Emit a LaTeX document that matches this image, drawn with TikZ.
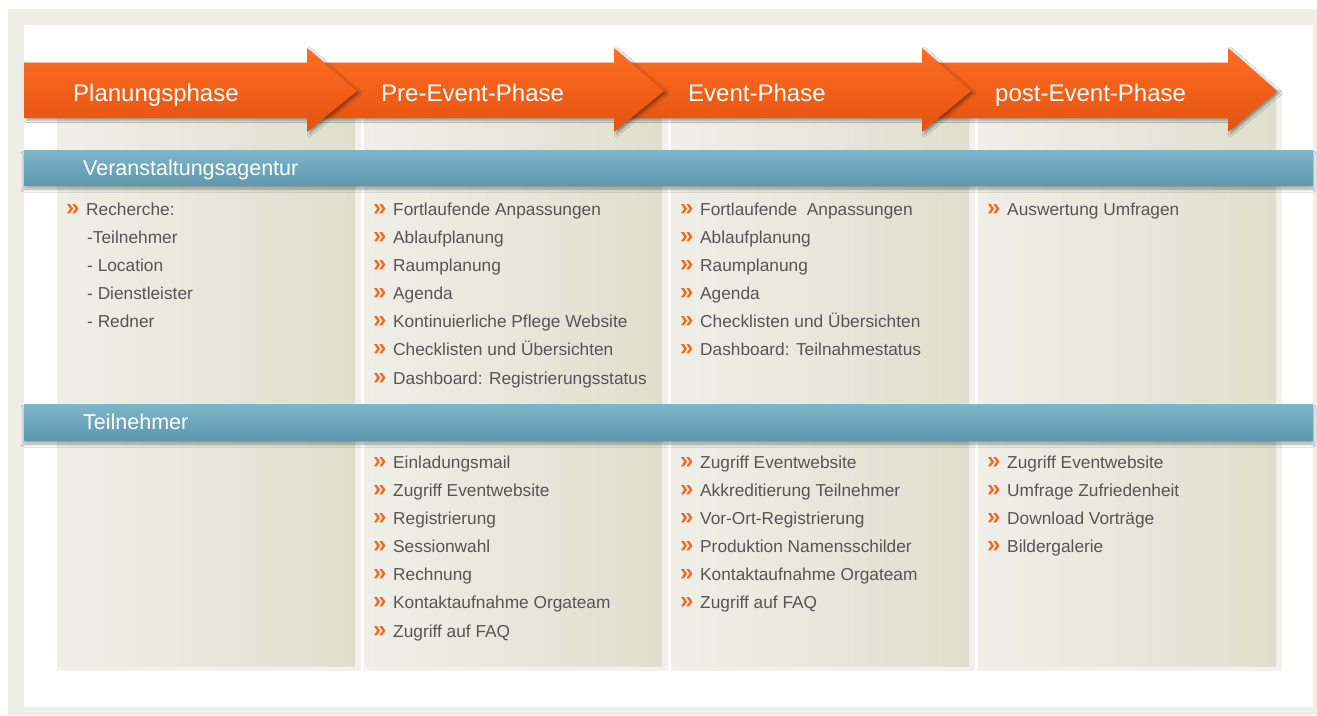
\documentclass[tikz,border=0pt]{standalone}
\usepackage{fontspec}
\setmainfont{Liberation Sans}
\usetikzlibrary{shadows.blur}
\definecolor{framebg}{HTML}{EEEEE6}
\definecolor{colborder}{HTML}{F2F2EC}
\definecolor{colleft}{HTML}{EFEFE8}
\definecolor{colright}{HTML}{DFDFCD}
\definecolor{arrowtop}{HTML}{FF6C24}
\definecolor{arrowbot}{HTML}{E4530F}
\definecolor{bartop}{HTML}{7EB5C9}
\definecolor{barbot}{HTML}{5E98AE}
\definecolor{itemgray}{HTML}{555557}
\definecolor{bulorange}{HTML}{F26A21}
\tikzset{
  item/.style={anchor=base west, inner sep=0pt, text=itemgray, font=\fontsize{17.3}{20}\selectfont},
  bul/.style={anchor=base west, inner sep=0pt, text=bulorange, font=\bfseries\fontsize{24}{26}\selectfont},
  phase/.style={anchor=base west, inner sep=0pt, text=white, font=\fontsize{24}{28}\selectfont},
  role/.style={anchor=base west, inner sep=0pt, text=white, font=\fontsize{21.5}{24}\selectfont},
  arrowshape/.style={top color=arrowtop, bottom color=arrowbot,
    blur shadow={shadow xshift=2.5pt, shadow yshift=-2pt, shadow blur radius=2.5pt, shadow opacity=40}},
  barshape/.style={top color=bartop, bottom color=barbot,
    blur shadow={shadow xshift=0pt, shadow yshift=-4pt, shadow blur radius=3pt, shadow opacity=35}},
}
\begin{document}
\begin{tikzpicture}[x=1pt,y=-1pt]
\useasboundingbox (0,0) rectangle (1317,715);
\fill[white] (0,0) rectangle (1317,715);
\fill[framebg] (8,9) rectangle (1317,715);
\fill[white] (24,25) rectangle (1313,707);
% columns
\foreach \x in {57,364,671,978} {
  \fill[colborder] (\x,90) rectangle (\x+304,671);
  \shade[left color=colleft, right color=colright] (\x,90) rectangle (\x+298,666);
}
% arrows (right to left so left heads lie on top)
\foreach \s/\b/\t in {922/1228/1277, 614/922/971, 307/614/664, 24/307/357} {
  \path[arrowshape] (\s,62.5) -- (\b,62.5) -- (\b,48) -- (\t,91) -- (\b,132) -- (\b,118) -- (\s,118) -- cycle;
}
\node[phase] (p1) at (73,101) {Planungsphase};
\node[phase] (p2) at (381,101) {Pre-Event-Phase};
\node[phase] (p3) at (688,101) {Event-Phase};
\node[phase] (p4) at (995,101) {post-Event-Phase};
% role bars
\path[barshape] (24,150) rectangle (1313,185);
\node[role] (r1) at (83,175) {Veranstaltungsagentur};
\path[barshape] (24,404) rectangle (1313,440);
\node[role] (r2) at (83,429) {Teilnehmer};
% column 1
\node[bul] (b1-0) at (66,215) {»};
\node[item] (t1-0) at (86,215) {Recherche:};
\node[item] (t1-1) at (87,243.2) {-Teilnehmer};
\node[item] (t1-2) at (87,271.3) {- Location};
\node[item] (t1-3) at (87,299.5) {- Dienstleister};
\node[item] (t1-4) at (87,327.7) {- Redner};
% agency items
\foreach \t [count=\i from 0] in {Fortlaufende Anpassungen, Ablaufplanung, Raumplanung, Agenda, Kontinuierliche Pflege Website, Checklisten und Übersichten, Dashboard: Registrierungsstatus} {
  \node[bul] (b2-\i) at (373,215+28.17*\i) {»};
  \node[item] (t2-\i) at (393,215+28.17*\i) {\t};
}
\foreach \t [count=\i from 0] in {Fortlaufende\ \ Anpassungen, Ablaufplanung, Raumplanung, Agenda, Checklisten und Übersichten, Dashboard: Teilnahmestatus} {
  \node[bul] (b3-\i) at (680,215+28.17*\i) {»};
  \node[item] (t3-\i) at (700,215+28.17*\i) {\t};
}
\node[bul] (b4-0) at (987,215) {»};
\node[item] (t4-0) at (1007,215) {Auswertung Umfragen};
% participant items
\foreach \t [count=\i from 0] in {Einladungsmail, Zugriff Eventwebsite, Registrierung, Sessionwahl, Rechnung, Kontaktaufnahme Orgateam, Zugriff auf FAQ} {
  \node[bul] (c2-\i) at (373,468+28.17*\i) {»};
  \node[item] (u2-\i) at (393,468+28.17*\i) {\t};
}
\foreach \t [count=\i from 0] in {Zugriff Eventwebsite, Akkreditierung Teilnehmer, Vor-Ort-Registrierung, Produktion Namensschilder, Kontaktaufnahme Orgateam, Zugriff auf FAQ} {
  \node[bul] (c3-\i) at (680,468+28.17*\i) {»};
  \node[item] (u3-\i) at (700,468+28.17*\i) {\t};
}
\foreach \t [count=\i from 0] in {Zugriff Eventwebsite, Umfrage Zufriedenheit, Download Vorträge, Bildergalerie} {
  \node[bul] (c4-\i) at (987,468+28.17*\i) {»};
  \node[item] (u4-\i) at (1007,468+28.17*\i) {\t};
}
\end{tikzpicture}
\end{document}
